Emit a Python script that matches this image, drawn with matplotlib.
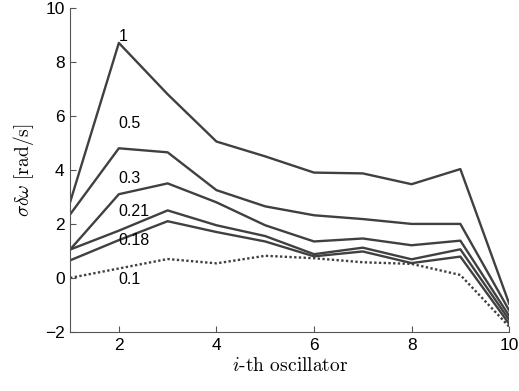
import numpy as np
import matplotlib
matplotlib.use("Agg")
import matplotlib.pyplot as plt

plt.rcParams["mathtext.fontset"] = "cm"
plt.rcParams["font.family"] = ["Liberation Sans", "DejaVu Sans"]

# oscillator index
osc = [1, 2, 3, 4, 5, 6, 7, 8, 9, 10]

# sigma*delta-omega for each coupling level
s_1 = [2.8, 8.7, 6.8, 5.05, 4.5, 3.9, 3.87, 3.47, 4.03, -0.95]
s_05 = [2.35, 4.8, 4.65, 3.25, 2.65, 2.32, 2.18, 2.0, 2.0, -1.2]
s_03 = [1.05, 3.1, 3.5, 2.8, 1.95, 1.35, 1.46, 1.21, 1.38, -1.4]
s_021 = [1.05, 1.75, 2.5, 1.95, 1.55, 0.88, 1.12, 0.69, 1.06, -1.55]
s_018 = [0.65, 1.4, 2.1, 1.7, 1.35, 0.8, 0.98, 0.55, 0.79, -1.7]
s_01 = [0.0, 0.35, 0.7, 0.54, 0.82, 0.73, 0.58, 0.52, 0.11, -1.8]

labels = ["1", "0.5", "0.3", "0.21", "0.18", "0.1"]
label_y = [8.95, 5.73, 3.69, 2.46, 1.37, -0.04]

col = "#404040"

fig = plt.figure(figsize=(5.19, 3.91), dpi=100)
ax = fig.add_axes([0.135, 0.151, 0.846, 0.829])

for s in [s_1, s_05, s_03, s_021, s_018]:
    ax.plot(osc, s, color=col, lw=1.7)
ax.plot(osc, s_01, color=col, lw=1.7, linestyle=(0, (1, 1.0)))

for lab, yy in zip(labels, label_y):
    ax.text(2.0, yy, lab, fontsize=11.5, va="center", ha="left", color="black")

ax.set_xlim(1, 10)
ax.set_ylim(-2, 10)
ax.set_xticks([2, 4, 6, 8, 10])
ax.set_yticks([-2, 0, 2, 4, 6, 8, 10])
ax.tick_params(direction="in", length=4, labelsize=12.5, color="#555555", pad=4)
for side in ["top", "right"]:
    ax.spines[side].set_visible(False)
for side in ["left", "bottom"]:
    ax.spines[side].set_color("#555555")
    ax.spines[side].set_linewidth(0.8)

ax.set_xlabel(r"$i$-th oscillator", fontsize=14, family="cmr10", labelpad=3)
ax.set_ylabel(r"$\sigma\delta\omega\ [\mathrm{rad/s}]$", fontsize=14, labelpad=6)

fig.savefig("out.png", dpi=100)
